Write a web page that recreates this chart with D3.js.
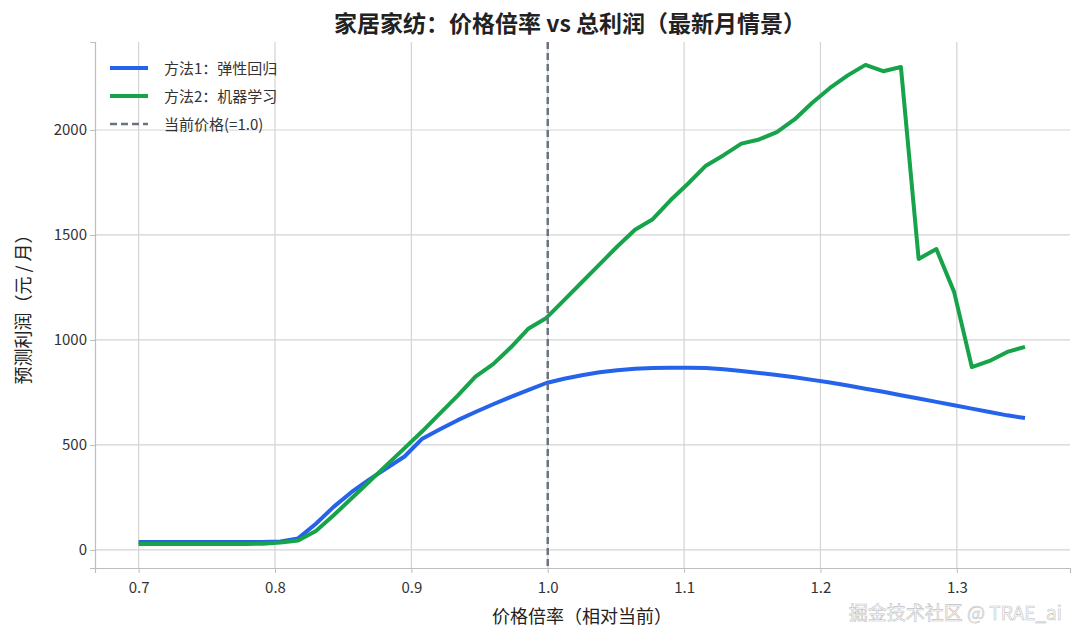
<!DOCTYPE html>
<html><head><meta charset="utf-8">
<script src="https://cdn.jsdelivr.net/npm/d3@7"></script>
<style>body{margin:0;background:#fff;font-family:"Noto Sans CJK SC","Noto Sans",sans-serif;}</style>
</head><body><div id="chart"></div>
<script>
const priceMultipliers = d3.range(51).map(i => +(0.7 + 0.013 * i).toFixed(3));
const elasticity = [38,38,38,38,38,38,38,38,40,55,125,205,275,335,390,445,530,575,618,657,694,729,762,795,815,832,846,856,863,867,868,868,866,860,852,843,833,822,810,797,783,768,753,737,721,705,689,673,657,641,628];
const machineLearning = [28,28,28,28,28,28,28,30,35,45,90,165,245,325,405,485,565,650,735,825,885,965,1055,1105,1190,1275,1360,1445,1525,1575,1665,1745,1830,1880,1935,1955,1990,2050,2130,2200,2260,2310,2280,2300,1386,1433,1229,871,900,943,967];
const xTicks = [0.7,0.8,0.9,1.0,1.1,1.2,1.3];
const yTicks = [0,500,1000,1500,2000];

const W = 1080, H = 641, m = {top: 42, right: 10, bottom: 73, left: 95};
const svg = d3.select("#chart").append("svg").attr("width", W).attr("height", H);
const x = d3.scaleLinear().domain([0.668, 1.383]).range([m.left, W - m.right]);
const y = d3.scaleLinear().domain([-86, 2419]).range([H - m.bottom, m.top]);

// grid
svg.append("g").selectAll("line").data(xTicks).join("line")
  .attr("x1", d => x(d)).attr("x2", d => x(d)).attr("y1", m.top).attr("y2", H - m.bottom)
  .attr("stroke", "#d3d3d3").attr("stroke-width", 1.2);
svg.append("g").selectAll("line").data(yTicks).join("line")
  .attr("y1", d => y(d)).attr("y2", d => y(d)).attr("x1", m.left).attr("x2", W - m.right)
  .attr("stroke", "#d3d3d3").attr("stroke-width", 1.2);

const xa = svg.append("g").attr("transform", `translate(0,${H - m.bottom})`)
  .call(d3.axisBottom(x).tickValues(xTicks).tickFormat(d3.format(".1f")).tickSize(5));
const ya = svg.append("g").attr("transform", `translate(${m.left},0)`)
  .call(d3.axisLeft(y).tickValues(yTicks).tickFormat(d3.format("d")).tickSize(5));
[xa, ya].forEach(a => {
  a.select(".domain").attr("stroke", "#bdbdbd").attr("stroke-width", 1.2);
  a.selectAll(".tick line").attr("stroke", "#bdbdbd");
  a.selectAll("text").attr("font-size", 15).attr("fill", "#333").attr("font-family", "Noto Sans CJK SC");
});
xa.selectAll("text").attr("dy", "1.1em");

const line = d3.line().x((d, i) => x(priceMultipliers[i])).y(d => y(d));
svg.append("path").datum(elasticity).attr("d", line).attr("fill", "none")
  .attr("stroke", "#2563eb").attr("stroke-width", 4).attr("stroke-linejoin", "round");
svg.append("path").datum(machineLearning).attr("d", line).attr("fill", "none")
  .attr("stroke", "#16a34a").attr("stroke-width", 4).attr("stroke-linejoin", "round");
svg.append("line").attr("x1", x(1)).attr("x2", x(1)).attr("y1", m.top).attr("y2", H - m.bottom)
  .attr("stroke", "#6b7280").attr("stroke-width", 2.5).attr("stroke-dasharray", "7,4");

// legend
const legend = [["方法1：弹性回归", "#2563eb", null], ["方法2：机器学习", "#16a34a", null], ["当前价格(=1.0)", "#6b7280", "7,4"]];
const lg = svg.append("g").attr("transform", "translate(110,68)");
legend.forEach(([t, c, dash], i) => {
  lg.append("line").attr("x1", 0).attr("x2", 38).attr("y1", i * 28).attr("y2", i * 28)
    .attr("stroke", c).attr("stroke-width", dash ? 2.5 : 4).attr("stroke-dasharray", dash);
  lg.append("text").attr("x", 54).attr("y", i * 28 + 6).attr("font-size", 15).attr("fill", "#333").text(t);
});

svg.append("text").attr("x", 570).attr("y", 32).attr("text-anchor", "middle")
  .attr("font-size", 23).attr("font-weight", "bold").attr("fill", "#222")
  .text("家居家纺：价格倍率 vs 总利润（最新月情景）");
svg.append("text").attr("x", 582).attr("y", 623).attr("text-anchor", "middle")
  .attr("font-size", 18).attr("fill", "#222").text("价格倍率（相对当前）");
svg.append("text").attr("transform", `translate(30,${(m.top + H - m.bottom) / 2}) rotate(-90)`)
  .attr("text-anchor", "middle").attr("font-size", 18).attr("fill", "#222").text("预测利润（元 / 月）");
svg.append("text").attr("x", 1062).attr("y", 620).attr("text-anchor", "end")
  .attr("font-size", 19).attr("fill", "#fff").attr("stroke", "#bbb").attr("stroke-width", 0.6)
  .attr("opacity", 0.9).text("掘金技术社区 @ TRAE_ai");
</script></body></html>
